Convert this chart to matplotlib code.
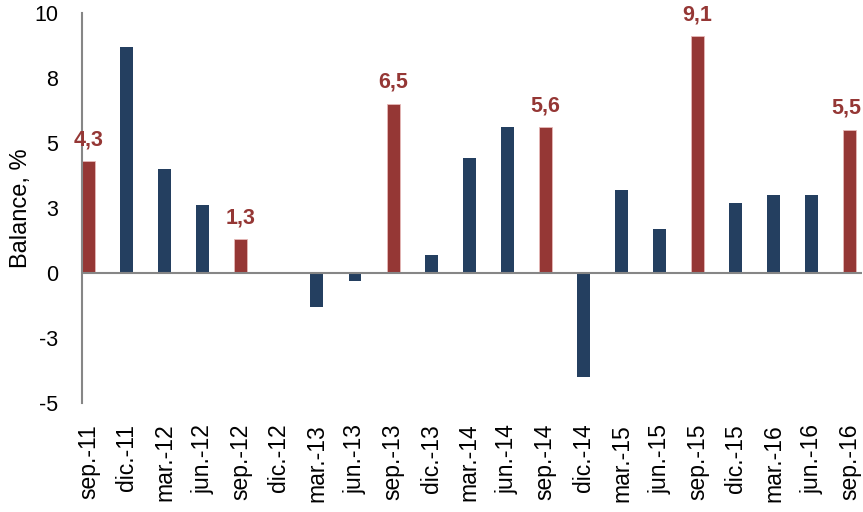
import matplotlib.pyplot as plt
from matplotlib.ticker import FixedLocator

plt.rcParams['font.family'] = ['Liberation Sans', 'DejaVu Sans']

# Data
periods = ['sep.-11', 'dic.-11', 'mar.-12', 'jun.-12', 'sep.-12', 'dic.-12',
           'mar.-13', 'jun.-13', 'sep.-13', 'dic.-13', 'mar.-14', 'jun.-14',
           'sep.-14', 'dic.-14', 'mar.-15', 'jun.-15', 'sep.-15', 'dic.-15',
           'mar.-16', 'jun.-16', 'sep.-16']
balance = [4.3, 8.7, 4.0, 2.6, 1.3, 0.0, -1.3, -0.3, 6.5, 0.7, 4.4, 5.6,
           5.6, -4.0, 3.2, 1.7, 9.1, 2.7, 3.0, 3.0, 5.5]
highlight = ['sep.-11', 'sep.-12', 'sep.-13', 'sep.-14', 'sep.-15', 'sep.-16']
yticks = [-5, -2.5, 0, 2.5, 5, 7.5, 10]

navy = '#243F60'
red = '#953735'

fig = plt.figure(figsize=(8.63, 5.12), dpi=100)
ax = fig.add_axes([0.095, 0.213, 0.904, 0.762])

x = list(range(len(periods)))
last = len(periods) - 1
for i, (p, v) in enumerate(zip(periods, balance)):
    if p in highlight:
        ax.bar(i, v, width=0.34, color=red, edgecolor='#E6B9B8', linewidth=0.6)
        # last label pushed inside the frame, like Excel does
        lx, ha = (i + 0.3, 'right') if i == last else (i, 'center')
        ax.text(lx, v + 0.42, f'{v:.1f}'.replace('.', ','), ha=ha, va='bottom',
                color=red, fontsize=15.5, fontweight='bold')
    else:
        ax.bar(i, v, width=0.34, color=navy, linewidth=0)

ax.axhline(0, color='#868686', linewidth=1.5, zorder=3)
ax.set_xlim(-0.17, len(periods) - 1 + 0.32)
ax.set_ylim(-5, 10)

ax.yaxis.set_major_locator(FixedLocator(yticks))
# Excel-style rounding (half away from zero)
ax.set_yticklabels([str(int(t + 0.5)) if t >= 0 else str(-int(-t + 0.5)) for t in yticks])
ax.set_xticks(x)
ax.set_xticklabels(periods, rotation=90, fontsize=16.5)
ax.tick_params(axis='both', length=0, colors='black')
ax.tick_params(axis='y', pad=17, labelsize=15.5)
ax.tick_params(axis='x', pad=15)

for s in ['top', 'right', 'bottom']:
    ax.spines[s].set_visible(False)
ax.spines['left'].set_color('#868686')
ax.spines['left'].set_linewidth(1.5)

ax.set_ylabel('Balance, %', fontsize=17, labelpad=2)

fig.savefig('out.png', dpi=100)
